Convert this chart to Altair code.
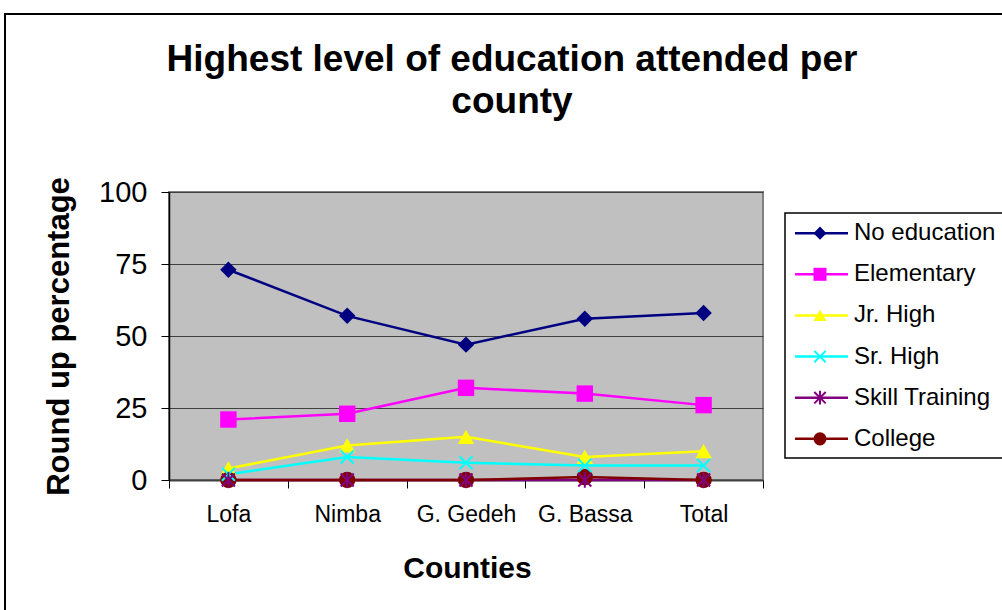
import altair as alt
import pandas as pd

# Counties along the x axis
counties = ["Lofa", "Nimba", "G. Gedeh", "G. Bassa", "Total"]

# Education levels (series), in legend order
levels = ["No education", "Elementary", "Jr. High", "Sr. High", "Skill Training", "College"]

# Rounded percentages per county for each level
no_education = [73, 57, 47, 56, 58]
elementary = [21, 23, 32, 30, 26]
jr_high = [4, 12, 15, 8, 10]
sr_high = [2, 8, 6, 5, 5]
skill_training = [0, 0, 0, 0, 0]
college = [0, 0, 0, 1, 0]

title_text = "Highest level of education attended per\ncounty"

level_colors = ["#000080", "#FF00FF", "#FFFF00", "#00FFFF", "#800080", "#800000"]
cross_path = "M-1,-1L1,1M-1,1L1,-1"
star_path = "M-1,-1L1,1M-1,1L1,-1M0,-1.2L0,1.2"
level_shapes = ["diamond", "square", "triangle-up", cross_path, star_path, "circle"]
hollow_levels = ["Sr. High", "Skill Training"]
solid_levels = [s for s in levels if s not in hollow_levels]

series_values = [no_education, elementary, jr_high, sr_high, skill_training, college]
rows = []
for lvl, vals in zip(levels, series_values):
    for c, v in zip(counties, vals):
        rows.append({"county": c, "level": lvl, "value": v})
df = pd.DataFrame(rows)

FONT = "Liberation Sans"

color = alt.Color("level:N", scale=alt.Scale(domain=levels, range=level_colors), legend=None)
shape = alt.Shape("level:N", scale=alt.Scale(domain=levels, range=level_shapes), legend=None)

x_enc = alt.X(
    "county:N",
    sort=counties,
    bandPosition=0.5,
    scale=alt.Scale(type="band", domain=counties, paddingInner=0, paddingOuter=0),
    axis=alt.Axis(
        labelAngle=0, tickBand="extent", tickSize=8, tickColor="#000000",
        domainColor="#404040", domainWidth=2, grid=False,
        labelFont=FONT, labelFontSize=23, labelColor="#000000", labelPadding=15,
        title="Counties", titleFont=FONT, titleFontSize=30, titleFontWeight="bold",
        titleColor="#000000", titleX=298, titleY=88, titleAlign="center",
        titleBaseline="middle",
    ),
)
y_scale = alt.Scale(domain=[0, 100], nice=False, zero=True)
y_axis = alt.Axis(
    values=[0, 25, 50, 75, 100], grid=True, gridColor="#404040", gridWidth=1,
    domainColor="#000000", domainWidth=1.5, tickColor="#000000", tickSize=8,
    labelFont=FONT, labelFontSize=29, labelColor="#000000", labelPadding=14,
    title="Round up percentage", titleFont=FONT, titleFontSize=31,
    titleFontWeight="bold", titleColor="#000000", titleX=-110, titleY=144,
    titleAngle=270, titleAlign="center", titleBaseline="middle",
)

base = alt.Chart(df)
lines = base.mark_line(strokeWidth=2.5).encode(
    x=x_enc, y=alt.Y("value:Q", scale=y_scale, axis=y_axis), color=color,
)
solid_pts = base.transform_filter(
    alt.FieldOneOfPredicate(field="level", oneOf=solid_levels)
).mark_point(filled=True, opacity=1, size=270).encode(
    x=x_enc, y=alt.Y("value:Q", scale=y_scale), color=color, shape=shape,
)
hollow_pts = base.transform_filter(
    alt.FieldOneOfPredicate(field="level", oneOf=hollow_levels)
).mark_point(filled=False, opacity=1, size=170, strokeWidth=2).encode(
    x=x_enc, y=alt.Y("value:Q", scale=y_scale), color=color, shape=shape,
)
data_layers = alt.layer(lines, solid_pts, hollow_pts)

# Hand-drawn legend: one row per level, spaced by a point scale
leg_df = pd.DataFrame({"level": levels})
leg_y = alt.Y("level:N", sort=levels,
              scale=alt.Scale(type="point", domain=levels, padding=1.01), axis=None)
leg_base = alt.Chart(leg_df)
leg_box = alt.Chart(pd.DataFrame({"k": [0]})).mark_rect(
    fill=None, stroke="#000000", strokeWidth=1.5
).encode(x=alt.value(616), x2=alt.value(850), y=alt.value(21), y2=alt.value(266))
leg_lines = leg_base.mark_rule(strokeWidth=2.5).encode(
    x=alt.value(626), x2=alt.value(679), y=leg_y, color=color)
leg_solid = leg_base.transform_filter(
    alt.FieldOneOfPredicate(field="level", oneOf=solid_levels)
).mark_point(filled=True, opacity=1, size=170).encode(
    x=alt.value(651), y=leg_y, color=color, shape=shape)
leg_hollow = leg_base.transform_filter(
    alt.FieldOneOfPredicate(field="level", oneOf=hollow_levels)
).mark_point(filled=False, opacity=1, size=130, strokeWidth=2).encode(
    x=alt.value(651), y=leg_y, color=color, shape=shape)
leg_text = leg_base.mark_text(
    align="left", baseline="middle", font=FONT, fontSize=24, color="#000000"
).encode(x=alt.value(685), y=leg_y, text="level:N")
legend_layers = alt.layer(leg_box, leg_lines, leg_solid, leg_hollow, leg_text)

# Outer chart frame and two-line heading
frame = alt.Chart(pd.DataFrame({"k": [0]})).mark_rect(
    fill=None, stroke="#000000", strokeWidth=2
).encode(x=alt.value(-164), x2=alt.value(850), y=alt.value(-178), y2=alt.value(430))
heading = alt.Chart(pd.DataFrame({"t": [title_text]})).mark_text(
    align="center", baseline="alphabetic", font=FONT, fontSize=37,
    fontWeight="bold", color="#000000", lineBreak="\n", lineHeight=42,
).encode(x=alt.value(343), y=alt.value(-121), text="t:N")

chart = alt.layer(frame, heading, data_layers, legend_layers).resolve_scale(
    y="independent"
).properties(
    width=594,
    height=288,
    autosize=alt.AutoSizeParams(type="none"),
    padding={"left": 169, "top": 192, "right": 239, "bottom": 130},
    background="#FFFFFF",
).configure_view(
    fill="#C0C0C0", stroke="#808080", strokeWidth=2
)

chart.save("out.html", embed_options={"renderer": "svg", "actions": False})
